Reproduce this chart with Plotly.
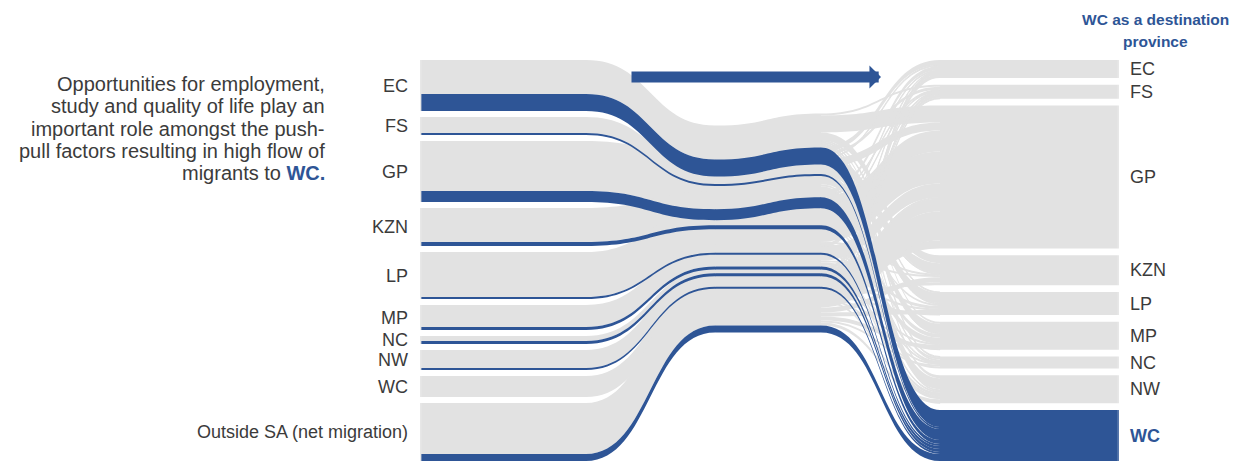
import plotly.graph_objects as go

# ---------------------------------------------------------------- data
origins = ["EC", "FS", "GP", "KZN", "LP", "MP", "NC", "NW", "WC",
           "Outside SA (net migration)"]
destinations = ["EC", "FS", "GP", "KZN", "LP", "MP", "NC", "NW", "WC"]

# migrants ('000) leaving each origin, listed in destination order
from_EC = [0, 20, 170, 80, 10, 20, 10, 30, 170]
from_FS = [10, 0, 80, 10, 10, 10, 20, 20, 20]
from_GP = [50, 30, 0, 100, 100, 90, 20, 110, 110]
from_KZN = [40, 10, 210, 0, 20, 40, 10, 10, 40]
from_LP = [10, 10, 320, 10, 0, 60, 10, 30, 20]
from_MP = [10, 10, 140, 20, 30, 0, 0, 10, 30]
from_NC = [0, 10, 10, 0, 0, 0, 0, 30, 30]
from_NW = [10, 10, 130, 0, 10, 10, 10, 0, 20]
from_WC = [40, 10, 80, 30, 10, 10, 20, 10, 0]
from_outside = [10, 30, 290, 50, 40, 40, 20, 30, 70]

flows = [from_EC, from_FS, from_GP, from_KZN, from_LP, from_MP,
         from_NC, from_NW, from_WC, from_outside]

# ---------------------------------------------------------------- layout
W, HP = 1236, 467
X_LEFT, X_RIGHT = 420, 1119          # sankey domain (px)
Y_TOP, Y_BOTTOM = 60, 461
GAP = 6                              # visual gap between origin blocks
# pass-through columns, centred on half pixels so node edges are crisp
MID_A_X, MID_B_X, MID_C_X, DEST_A_X = 585.5, 715.5, 820.5, 940.5
MID_SCALE, MID_OFFSET = 0.48, 80     # vertical squeeze of the middle band
WAVE = [12, 10, 12, 0, 0, 0, 0, 0, 0, 0]

GREY = "rgb(226,226,226)"
BLUE = "#2E5596"
TEXT = "#3b3b3b"
FONT = "Liberation Sans"
LABEL_SIZE = 18
NOTE_SIZE = 20

H = Y_BOTTOM - Y_TOP
WD = X_RIGHT - X_LEFT
n_o, n_d = len(origins), len(destinations)
wc = destinations.index("WC")

out_tot = [sum(r) for r in flows]
to_wc = [r[wc] for r in flows]
other = [t - b for t, b in zip(out_tot, to_wc)]
in_tot = [sum(r[j] for r in flows) for j in range(n_d)]
total = sum(out_tot)
ky = (H - (n_o - 1) * GAP) / total

# origin blocks (px inside the domain)
o_top, acc = [], 0.0
for v in out_tot:
    o_top.append(acc)
    acc += v * ky + GAP
o_h = [v * ky for v in out_tot]
o_c = [t + h / 2 for t, h in zip(o_top, o_h)]

# destination blocks
d_gap = (H - total * ky) / (n_d - 1)
d_c, acc = [], 0.0
for v in in_tot:
    d_c.append(acc + v * ky / 2)
    acc += v * ky + d_gap

# squeezed middle band: block top positions
mid_c_top = [MID_SCALE * (t + h) + MID_OFFSET - h for t, h in zip(o_top, o_h)]
mid_b_top = [t + w for t, w in zip(mid_c_top, WAVE)]

nx, ny, ncol = [], [], []


def node(px, centre, colour):
    nx.append(min(max((px - X_LEFT) / WD, 0.001), 0.999))
    ny.append(centre / H)
    ncol.append(colour)
    return len(nx) - 1


O = [node(X_LEFT, c, GREY) for c in o_c]
DA = [node(DEST_A_X, c, BLUE if j == wc else GREY) for j, c in enumerate(d_c)]
D = [node(X_RIGHT, c, BLUE if j == wc else GREY) for j, c in enumerate(d_c)]

# pass-through nodes, one chain for the grey part and one for the blue part
chain_x = [MID_A_X, MID_B_X, MID_C_X]
grey_chain, blue_chain = [], []
for i in range(n_o):
    tops = [o_top[i], mid_b_top[i], mid_c_top[i]]
    grey_chain.append([node(x, t + other[i] * ky / 2, GREY)
                       for x, t in zip(chain_x, tops)])
for i in range(n_o):
    tops = [o_top[i], mid_b_top[i], mid_c_top[i]]
    if to_wc[i] > 0:
        blue_chain.append([node(x, t + other[i] * ky + to_wc[i] * ky / 2, BLUE)
                           for x, t in zip(chain_x, tops)])
    else:
        blue_chain.append(None)

# plotly sizes nodes from the busiest column; match its padding to ky
col_count = {}
for x in nx:
    col_count[round(x, 4)] = col_count.get(round(x, 4), 0) + 1
busiest = max(col_count.values())
pad = (H - total * ky) / (busiest - 1)

src, tgt, val, col = [], [], [], []


def link(s, t, v, c):
    if v <= 0:
        return
    src.append(s); tgt.append(t); val.append(v); col.append(c)


# grey flows (all destinations other than WC)
for i in range(n_o):
    a, b, c = grey_chain[i]
    link(O[i], a, other[i], GREY)
    link(a, b, other[i], GREY)
    link(b, c, other[i], GREY)
    for j in range(n_d):
        if j != wc:
            link(c, DA[j], flows[i][j], GREY)
for j in range(n_d):
    if j != wc:
        link(DA[j], D[j], in_tot[j], GREY)

# blue flows into WC, drawn last so they sit on top
for i in range(n_o):
    if blue_chain[i] is None:
        continue
    a, b, c = blue_chain[i]
    link(O[i], a, to_wc[i], BLUE)
    link(a, b, to_wc[i], BLUE)
    link(b, c, to_wc[i], BLUE)
    link(c, DA[wc], to_wc[i], BLUE)
link(DA[wc], D[wc], in_tot[wc], BLUE)

fig = go.Figure(go.Sankey(
    arrangement="fixed",
    domain=dict(x=[X_LEFT / W, X_RIGHT / W],
                y=[1 - Y_BOTTOM / HP, 1 - Y_TOP / HP]),
    node=dict(label=[""] * len(nx), x=nx, y=ny, pad=pad,
              thickness=1, color=ncol, line=dict(width=0)),
    link=dict(source=src, target=tgt, value=val, color=col,
              line=dict(width=0)),
    hoverinfo="skip",
))

ann = []
for name, c in zip(origins, o_c):
    ann.append(dict(x=(X_LEFT - 11) / W, y=1 - (Y_TOP + c) / HP,
                    xref="paper", yref="paper", xanchor="right",
                    yanchor="middle", text=name, showarrow=False,
                    borderpad=0,
                    font=dict(family=FONT, size=LABEL_SIZE, color=TEXT)))
for name, c in zip(destinations, d_c):
    txt = f"<b>{name}</b>" if name == "WC" else name
    ann.append(dict(x=(X_RIGHT + 10) / W, y=1 - (Y_TOP + c) / HP,
                    xref="paper", yref="paper", xanchor="left",
                    yanchor="middle", text=txt, showarrow=False,
                    borderpad=0,
                    font=dict(family=FONT, size=LABEL_SIZE,
                              color=BLUE if name == "WC" else TEXT)))

# explanatory note on the left
note = ["Opportunities for employment,",
        "study and quality of life play an",
        "important role amongst the push-",
        "pull factors resulting in high flow of",
        f"migrants to <b><span style='color:{BLUE}'>WC.</span></b>"]
for k, line in enumerate(note):
    ann.append(dict(x=326 / W, y=1 - (84 + 22.3 * k) / HP, xref="paper",
                    yref="paper", xanchor="right", yanchor="middle",
                    text=line, showarrow=False, borderpad=0,
                    font=dict(family=FONT, size=NOTE_SIZE, color=TEXT)))

# heading over the destination column
for k, line in enumerate(["WC as a destination", "province"]):
    ann.append(dict(x=1155 / W, y=1 - (20 + 21 * k) / HP, xref="paper",
                    yref="paper", xanchor="center", yanchor="middle",
                    text=f"<b>{line}</b>", showarrow=False, borderpad=0,
                    font=dict(family=FONT, size=15.5, color=BLUE)))

# direction arrow
ann.append(dict(x=881 / W, y=1 - 77 / HP, xref="paper", yref="paper",
                ax=-251, ay=0, text="", showarrow=True, arrowhead=1,
                arrowsize=0.35, arrowwidth=11, arrowcolor=BLUE))

fig.update_layout(width=W, height=HP, margin=dict(l=0, r=0, t=0, b=0),
                  paper_bgcolor="white", plot_bgcolor="white",
                  annotations=ann, font=dict(family=FONT))

fig.write_html("out.html")
